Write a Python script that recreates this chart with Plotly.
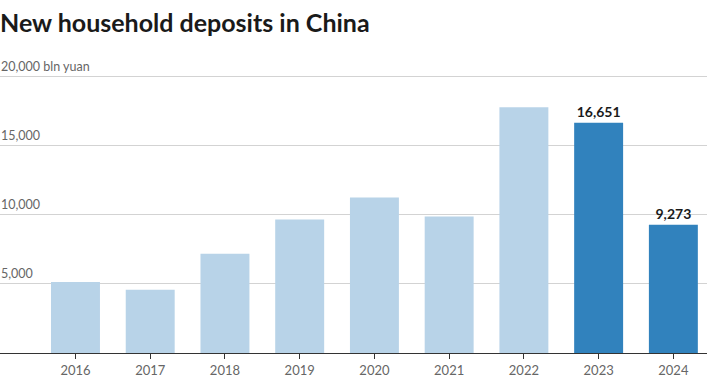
import plotly.graph_objects as go

years = ["2016", "2017", "2018", "2019", "2020", "2021", "2022", "2023", "2024"]
deposits = [5130, 4570, 7180, 9650, 11250, 9870, 17780, 16651, 9273]
highlight = [False, False, False, False, False, False, False, True, True]
ytick_vals = [5000, 10000, 15000, 20000]
ytick_text = ["5,000", "10,000", "15,000", "20,000 bln yuan"]

light = "#b8d3e8"
dark = "#3182bd"
colors = [dark if h else light for h in highlight]
labels = [f"{v:,}" if h else "" for v, h in zip(deposits, highlight)]

fig = go.Figure()
fig.add_trace(go.Bar(
    x=list(range(len(years))), y=deposits,
    marker=dict(color=colors, line=dict(width=0)),
    text=labels, textposition="outside", cliponaxis=False,
    textfont=dict(family="Lato", size=14, color="#1a1a1a", weight="bold"),
    width=0.655,
))

for v, t in zip(ytick_vals, ytick_text):
    fig.add_annotation(x=0, xref="paper", y=v, yref="y", text=t,
                       showarrow=False, xanchor="left", yanchor="bottom",
                       yshift=1, xshift=-1,
                       font=dict(family="Lato", size=12.5, color="#666666"))

fig.update_layout(
    width=707, height=391,
    margin=dict(l=0, r=0, t=71, b=38, autoexpand=False),
    paper_bgcolor="white", plot_bgcolor="white",
    showlegend=False,
    title=dict(text="<b>New household deposits in China</b>", x=0, xref="paper",
               xanchor="left", y=0.94, yanchor="middle",
               font=dict(family="Lato", size=25, color="#1a1a1a")),
    xaxis=dict(
        tickmode="array", tickvals=list(range(len(years))), ticktext=years,
        range=[-1.01, 8.45], showgrid=False, automargin=False,
        ticks="outside", ticklen=5, tickcolor="#333333", tickwidth=1,
        tickfont=dict(family="Lato", size=13, color="#666666"),
        showline=True, linecolor="#333333", linewidth=1.3,
    ),
    yaxis=dict(
        range=[0, 20400], tickvals=ytick_vals, showticklabels=False,
        showgrid=True, gridcolor="#d3d3d3", gridwidth=1.3,
        zeroline=False, automargin=False,
    ),
)

fig.write_html("out.html", config={"displayModeBar": False},
               post_script="document.body.style.margin='0';")
